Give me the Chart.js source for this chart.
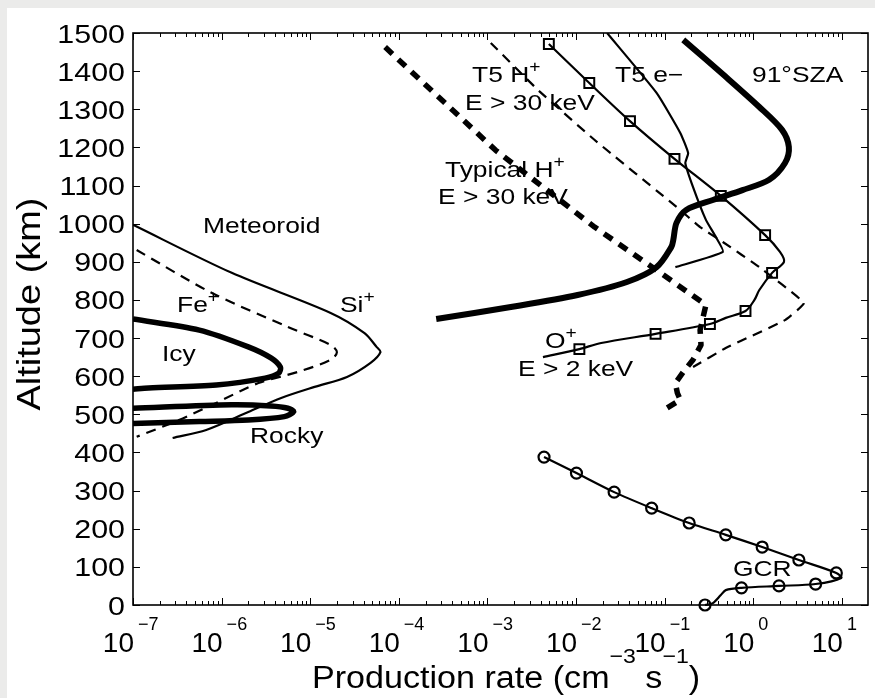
<!DOCTYPE html>
<html lang="en">
<head>
  <meta charset="UTF-8">
  <title>Ion production rates</title>
  <script src="https://cdn.jsdelivr.net/npm/chart.js"></script>
  <style>
    html, body {
      margin: 0;
      padding: 0;
      overflow: hidden;
      background: #ebebea;
    }
    .sheet {
      position: absolute;
      left: 7px;
      top: 8px;
      right: 0;
      bottom: 0;
      background: #fff;
    }
    #grafico {
      position: absolute;
      left: 0;
      top: 0;
    }
  </style>
</head>
<body>
  <div class="sheet"></div>
  <canvas id="grafico" width="877" height="698"></canvas>

  <script>
    // Meteoroid ablation profiles
    const siRate = [1.0e-7, 1.3e-6, 1.7e-5, 4.1e-5, 5.6e-5, 6.2e-5, 4.8e-5, 2.6e-5, 1.12e-5, 4.7e-6, 2.0e-6, 6.7e-7, 2.8e-7];
    const siAlt  = [997, 871, 766, 713, 677, 663, 635, 598, 572, 543, 506, 459, 438];

    const feRate = [1.1e-7, 7.8e-7, 5.6e-6, 1.7e-5, 2.0e-5, 1.7e-5, 7.2e-6, 2.6e-6, 8.7e-7, 3.3e-7, 1.1e-7];
    const feAlt  = [931, 818, 729, 682, 663, 643, 611, 582, 530, 485, 441];

    const icyRate = [1.0e-7, 5.6e-7, 2.0e-6, 3.6e-6, 4.6e-6, 4.4e-6, 3.1e-6, 8.7e-7, 1.5e-7, 1.0e-7];
    const icyAlt  = [750, 721, 677, 648, 624, 608, 595, 577, 569, 566];

    const rockyRate = [1.0e-7, 1.3e-6, 3.6e-6, 5.6e-6, 6.5e-6, 5.1e-6, 2.0e-6, 5.6e-7, 1.0e-7];
    const rockyAlt  = [516, 525, 522, 516, 507, 494, 485, 481, 476];

    // Magnetospheric / solar sources
    const typHRate = [7.0e-5, 1.23e-3, 1.62e-2, 0.0897, 0.292, 0.251, 0.257, 0.209, 0.162, 0.132, 0.139, 0.150, 0.0897];
    const typHAlt  = [1463, 1193, 991, 871, 787, 721, 682, 643, 611, 582, 556, 538, 506];

    const t5HRate = [1.09e-3, 3.7e-3, 0.0161, 0.136, 0.251, 0.453, 1.17, 3.72, 2.28, 0.489, 0.209];
    const t5HAlt  = [1474, 1351, 1220, 1044, 991, 952, 886, 792, 747, 674, 624];

    const t5eRate = [0.0224, 0.081, 0.150, 0.184, 0.171, 0.209, 0.292, 0.378, 0.453, 0.132];
    const t5eAlt  = [1500, 1343, 1238, 1185, 1159, 1096, 1010, 965, 926, 886];

    const oRate = [4.93e-3, 0.0141, 0.0406, 0.129, 0.430, 1.36, 2.00, 2.22, 1.63, 1.17, 1.03, 0.817, 0.489, 0.324, 0.0789, 0.0192, 0.0109, 4.23e-3];
    const oAlt  = [1471, 1369, 1269, 1170, 1073, 970, 926, 900, 871, 826, 800, 771, 753, 737, 711, 687, 671, 650];
    const oMarks = [0, 1, 2, 3, 4, 5, 8, 11, 13, 14, 16];

    const szaRate = [0.162, 0.489, 1.17, 2.11, 2.52, 2.28, 1.51, 0.755, 0.350, 0.175, 0.136, 0.125, 0.119, 0.081, 0.0375, 0.0104, 1.91e-3, 2.64e-4];
    const szaAlt  = [1482, 1385, 1306, 1246, 1201, 1159, 1115, 1088, 1062, 1036, 1002, 957, 939, 886, 847, 813, 782, 750];

    const gcrRate = [4.35e-3, 0.0101, 0.0269, 0.0713, 0.189, 0.489, 1.26, 3.27, 8.65, 9.84, 5.05, 1.95, 0.736, 0.489, 0.430, 0.350, 0.285];
    const gcrAlt  = [388, 346, 296, 254, 215, 184, 152, 118, 84, 71, 55, 50, 45, 39, 26, 5, 0];
    const gcrMarks = [0, 1, 2, 3, 4, 5, 6, 7, 8, 10, 11, 12, 16];

    // Axis ticks
    const xExponents = [-7, -6, -5, -4, -3, -2, -1, 0, 1];
    const yTicks = [0, 100, 200, 300, 400, 500, 600, 700, 800, 900, 1000, 1100, 1200, 1300, 1400, 1500];

    const FONT = '"Liberation Sans", Arial, Helvetica, sans-serif';
    const SUP = '\u2212';

    function puntos(rates, alts) {
      return rates.map((r, i) => ({ x: r, y: alts[i] }));
    }

    function serie(label, rates, alts, width, extra) {
      return Object.assign({
        label: label,
        data: puntos(rates, alts),
        borderColor: '#000',
        backgroundColor: 'rgba(0,0,0,0)',
        borderWidth: width,
        pointRadius: 0,
        tension: 0.3,
        borderJoinStyle: 'round',
        fill: false
      }, extra || {});
    }

    // Text annotations: [text, size, raise]
    const notas = [
      { x: 203, y: 233, parts: [['Meteoroid', 22, 0]] },
      { x: 177, y: 312, parts: [['Fe', 22, 0], ['+', 16, 10]] },
      { x: 340, y: 312, parts: [['Si', 22, 0], ['+', 16, 10]] },
      { x: 162, y: 361, parts: [['Icy', 22, 0]] },
      { x: 250, y: 443, parts: [['Rocky', 22, 0]] },
      { x: 472, y: 82, parts: [['T5 H', 22, 0], ['+', 16, 10]] },
      { x: 465, y: 110, parts: [['E > 30 keV', 22, 0]] },
      { x: 615, y: 82, parts: [['T5 e\u2212', 22, 0]] },
      { x: 752, y: 82, parts: [['91\u00b0SZA', 22, 0]] },
      { x: 445, y: 177, parts: [['Typical H', 22, 0], ['+', 16, 10]] },
      { x: 438, y: 204, parts: [['E > 30 keV', 22, 0]] },
      { x: 545, y: 348, parts: [['O', 22, 0], ['+', 16, 10]] },
      { x: 518, y: 376, parts: [['E > 2 keV', 22, 0]] },
      { x: 733, y: 576, parts: [['GCR', 22, 0]] }
    ];

    function texto(ctx, s, x, y, size, sx, align) {
      ctx.save();
      ctx.font = size + 'px ' + FONT;
      ctx.fillStyle = '#000';
      ctx.textAlign = align || 'left';
      ctx.textBaseline = 'alphabetic';
      ctx.translate(x, y);
      ctx.scale(sx, 1);
      ctx.fillText(s, 0, 0);
      const w = ctx.measureText(s).width * sx;
      ctx.restore();
      return w;
    }

    function rico(ctx, parts, x, y, sx) {
      let cx = x;
      parts.forEach(p => {
        cx += texto(ctx, p[0], cx, y - p[2], p[1], sx);
      });
    }

    const marco = {
      id: 'marco',
      afterDraw(chart) {
        const ctx = chart.ctx;
        const a = chart.chartArea;
        const xs = chart.scales.x;
        const ys = chart.scales.y;
        ctx.save();
        ctx.strokeStyle = '#000';
        ctx.lineWidth = 1;
        ctx.beginPath();
        xExponents.forEach(k => {
          for (let m = 1; m <= 9; m++) {
            const v = m * Math.pow(10, k);
            if (v > xs.max) break;
            const px = Math.round(xs.getPixelForValue(v)) + 0.5;
            const len = m === 1 ? 7 : 4;
            ctx.moveTo(px, a.bottom); ctx.lineTo(px, a.bottom - len);
            ctx.moveTo(px, a.top); ctx.lineTo(px, a.top + len);
          }
        });
        yTicks.forEach(v => {
          const py = Math.round(ys.getPixelForValue(v)) + 0.5;
          ctx.moveTo(a.left, py); ctx.lineTo(a.left + 7, py);
          ctx.moveTo(a.right, py); ctx.lineTo(a.right - 7, py);
        });
        ctx.stroke();

        ctx.lineWidth = 1.6;
        ctx.strokeRect(a.left, a.top, a.right - a.left, a.bottom - a.top);
        ctx.restore();

        // y tick labels
        yTicks.forEach(v => {
          const py = ys.getPixelForValue(v);
          texto(ctx, String(v), 125, py + 9.5, 26, 1.17, 'right');
        });

        // x tick labels 10^k
        xExponents.forEach(k => {
          const px = xs.getPixelForValue(Math.pow(10, k));
          texto(ctx, '10', px + 1, 652, 28, 1.0, 'right');
          const e = k < 0 ? SUP + Math.abs(k) : String(k);
          texto(ctx, e, px + 5, 630, 18, 1.0, 'left');
        });

        // axis titles
        rico(ctx, [['Production rate (cm', 31, 0], [SUP + '3', 21, 25], [' s', 31, 0], [SUP + '1', 21, 25], [')', 31, 0]], 312, 688, 1.1);

        ctx.save();
        ctx.translate(40, 304);
        ctx.rotate(-Math.PI / 2);
        texto(ctx, 'Altitude (km)', 0, 0, 33, 1.15, 'center');
        ctx.restore();

        notas.forEach(n => rico(ctx, n.parts, n.x, n.y, 1.2));
      }
    };

    new Chart(document.getElementById('grafico'), {
      type: 'line',
      data: {
        datasets: [
          serie('Si+', siRate, siAlt, 2.2),
          serie('Fe+', feRate, feAlt, 2.2, { borderDash: [10, 7] }),
          serie('Icy', icyRate, icyAlt, 5.5),
          serie('Rocky', rockyRate, rockyAlt, 5.5),
          serie('Typical H+', typHRate, typHAlt, 5.5, { borderDash: [10, 8], tension: 0 }),
          serie('T5 H+', t5HRate, t5HAlt, 2.2, { borderDash: [10, 7], tension: 0.1 }),
          serie('T5 e-', t5eRate, t5eAlt, 2.2, { tension: 0.15 }),
          serie('O+', oRate, oAlt, 2.2, {
            pointStyle: 'rect',
            pointRadius: oRate.map((r, i) => oMarks.includes(i) ? 7 : 0),
            pointBorderWidth: 2,
            pointBorderColor: '#000',
            pointBackgroundColor: 'rgba(0,0,0,0)'
          }),
          serie('91 SZA', szaRate, szaAlt, 6),
          serie('GCR', gcrRate, gcrAlt, 2.2, {
            clip: false,
            pointStyle: 'circle',
            pointRadius: gcrRate.map((r, i) => gcrMarks.includes(i) ? 5.5 : 0),
            pointBorderWidth: 2.2,
            pointBorderColor: '#000',
            pointBackgroundColor: 'rgba(0,0,0,0)'
          })
        ]
      },
      options: {
        responsive: false,
        animation: false,
        layout: { padding: { top: 33, left: 0, right: 0, bottom: 0 } },
        plugins: {
          legend: { display: false },
          tooltip: { enabled: false }
        },
        scales: {
          x: {
            type: 'logarithmic',
            min: 1e-7,
            max: 19.7,
            ticks: { display: false },
            grid: { display: false },
            border: { display: false },
            afterFit(s) { s.height = 93; }
          },
          y: {
            type: 'linear',
            min: 0,
            max: 1500,
            ticks: { display: false },
            grid: { display: false },
            border: { display: false },
            afterFit(s) { s.width = 133; }
          }
        }
      },
      plugins: [marco]
    });
  </script>
</body>
</html>
